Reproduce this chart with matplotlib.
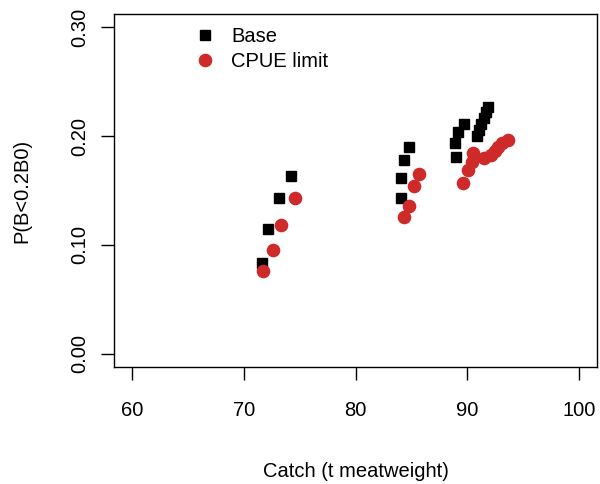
import matplotlib
matplotlib.use("Agg")
import matplotlib.pyplot as plt

plt.rcParams['font.family'] = ['Liberation Sans', 'DejaVu Sans']

# Base scenario: catch vs probability
base_catch = [71.6, 72.14, 73.2, 74.19,
              84.07, 84.07, 84.34, 84.78,
              89.00, 88.91, 89.18, 89.74, 90.90, 91.08, 91.26, 91.52, 91.70, 91.88]
base_prob = [0.0834, 0.1146, 0.1431, 0.1636,
             0.1431, 0.1615, 0.1783, 0.190,
             0.1808, 0.1937, 0.2038, 0.2114, 0.2004, 0.2059, 0.2114, 0.2169, 0.2224, 0.2270]

# CPUE limit scenario
cpue_catch = [71.73, 72.64, 73.38, 74.6,
              84.34, 84.82, 85.26, 85.71,
              89.65, 90.04, 90.43, 90.48, 91.52, 92.15, 92.50, 92.77, 93.13, 93.66]
cpue_prob = [0.0756, 0.095, 0.1183, 0.1431,
             0.1256, 0.1354, 0.1544, 0.1654,
             0.1569, 0.1685, 0.1758, 0.1845, 0.1799, 0.1829, 0.1866, 0.1903, 0.1939, 0.1967]

x_ticks = [60, 70, 80, 90, 100]
y_ticks = [0.0, 0.1, 0.2, 0.3]
y_labels = ["0.00", "0.10", "0.20", "0.30"]

fig = plt.figure(figsize=(6, 4.84), dpi=100)
ax = fig.add_axes([0.19, 0.242, 0.805, 0.729])

ax.plot(base_catch, base_prob, 's', color='black', markersize=7.3, label='Base')
ax.plot(cpue_catch, cpue_prob, 'o', color='#CE2A2A', markersize=8.8, label='CPUE limit')

ax.set_xlim(58.4, 101.6)
ax.set_ylim(-0.012, 0.312)
ax.set_xticks(x_ticks)
ax.set_yticks(y_ticks)
ax.set_yticklabels(y_labels, rotation=90, va='center')
ax.tick_params(direction='out', length=9.5, width=1, labelsize=14.5)
ax.tick_params(axis='x', pad=15)
ax.tick_params(axis='y', pad=8)
for s in ax.spines.values():
    s.set_linewidth(1)

ax.set_xlabel('Catch (t meatweight)', fontsize=14.5, labelpad=30)
ax.set_ylabel('P(B<0.2B0)', fontsize=14.5, labelpad=28)

ax.legend(loc='upper left', bbox_to_anchor=(0.138, 0.998), frameon=False, fontsize=14.5,
          handletextpad=0.7, labelspacing=0.3, borderaxespad=0.2, handlelength=1.2)

fig.savefig('out.png', dpi=100)
